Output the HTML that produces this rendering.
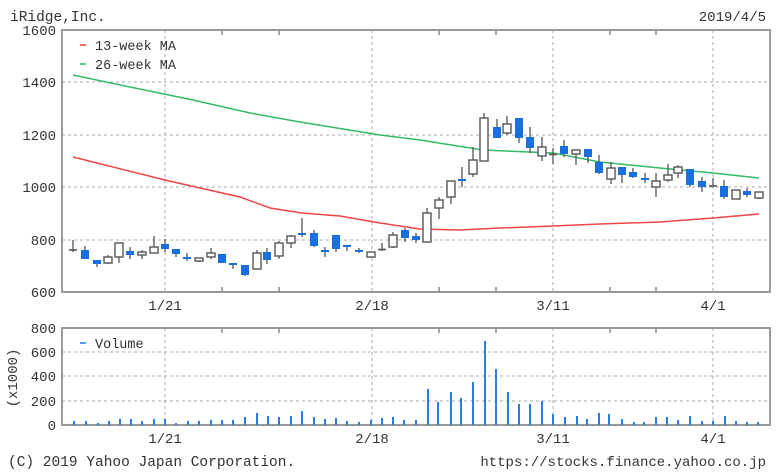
<!DOCTYPE html>
<html><head><meta charset="utf-8"><style>
html,body{margin:0;padding:0;background:#fff;}
svg{display:block;}
text{font-family:"Liberation Mono",monospace;fill:#333;}
</style></head><body>
<svg width="776" height="476" viewBox="0 0 776 476" xmlns="http://www.w3.org/2000/svg">
<text x="10" y="21" font-size="14.5">iRidge,Inc.</text>
<text x="766" y="21" font-size="14" text-anchor="end">2019/4/5</text>
<g stroke="#aaa" stroke-width="1" stroke-dasharray="3,3" fill="none">
<line x1="62" y1="82" x2="770" y2="82"/><line x1="62" y1="135" x2="770" y2="135"/><line x1="62" y1="187" x2="770" y2="187"/><line x1="62" y1="240" x2="770" y2="240"/>
<line x1="165" y1="30" x2="165" y2="292"/><line x1="372" y1="30" x2="372" y2="292"/><line x1="553" y1="30" x2="553" y2="292"/><line x1="713" y1="30" x2="713" y2="292"/>
<line x1="62" y1="352" x2="770" y2="352"/><line x1="62" y1="376" x2="770" y2="376"/><line x1="62" y1="401" x2="770" y2="401"/>
<line x1="165" y1="328" x2="165" y2="425"/><line x1="372" y1="328" x2="372" y2="425"/><line x1="553" y1="328" x2="553" y2="425"/><line x1="713" y1="328" x2="713" y2="425"/>
</g>
<g stroke="#888" stroke-width="1.5">
<line x1="222" y1="30" x2="222" y2="35"/><line x1="279" y1="30" x2="279" y2="35"/><line x1="439" y1="30" x2="439" y2="35"/><line x1="496" y1="30" x2="496" y2="35"/><line x1="610" y1="30" x2="610" y2="35"/><line x1="656" y1="30" x2="656" y2="35"/>
<line x1="222" y1="292" x2="222" y2="287"/><line x1="279" y1="292" x2="279" y2="287"/><line x1="439" y1="292" x2="439" y2="287"/><line x1="496" y1="292" x2="496" y2="287"/><line x1="610" y1="292" x2="610" y2="287"/><line x1="656" y1="292" x2="656" y2="287"/>
<line x1="222" y1="328" x2="222" y2="333"/><line x1="279" y1="328" x2="279" y2="333"/><line x1="439" y1="328" x2="439" y2="333"/><line x1="496" y1="328" x2="496" y2="333"/><line x1="610" y1="328" x2="610" y2="333"/><line x1="656" y1="328" x2="656" y2="333"/>
</g>
<rect x="62" y="30" width="708" height="262" fill="none" stroke="#999" stroke-width="2"/>
<rect x="62" y="328" width="708" height="97" fill="none" stroke="#999" stroke-width="2"/>
<g font-size="14" text-anchor="end">
<text x="56" y="35">1600</text><text x="56" y="87">1400</text><text x="56" y="140">1200</text><text x="56" y="192">1000</text><text x="56" y="245">800</text><text x="56" y="297">600</text>
<text x="56" y="333">800</text><text x="56" y="357">600</text><text x="56" y="381">400</text><text x="56" y="406">200</text><text x="56" y="430">0</text>
</g>
<g font-size="14" text-anchor="middle">
<text x="165" y="310">1/21</text><text x="372" y="310">2/18</text><text x="553" y="310">3/11</text><text x="713" y="310">4/1</text>
<text x="165" y="443">1/21</text><text x="372" y="443">2/18</text><text x="553" y="443">3/11</text><text x="713" y="443">4/1</text>
</g>
<text transform="translate(17,378) rotate(-90)" font-size="14" text-anchor="middle">(x1000)</text>
<text x="8" y="466" font-size="14.5">(C) 2019 Yahoo Japan Corporation.</text>
<text x="766" y="466" font-size="14" text-anchor="end">https://stocks.finance.yahoo.co.jp</text>
<line x1="80" y1="45" x2="86" y2="45" stroke="#e33" stroke-width="1.5"/>
<text x="95" y="50" font-size="13.5">13-week MA</text>
<line x1="80" y1="64" x2="86" y2="64" stroke="#3b5" stroke-width="1.5"/>
<text x="95" y="69" font-size="13.5">26-week MA</text>
<line x1="80" y1="343" x2="86" y2="343" stroke="#2277ee" stroke-width="1.5"/>
<text x="95" y="348" font-size="13.5">Volume</text>
<polyline fill="none" stroke="#ee4444" stroke-width="1.5" points="73,157 165,180 200,188 240,197 270,208 302,213 340,216 380,223 420,229 460,230 500,228 553,226 600,224 660,222 713,218 759,214"/>
<polyline fill="none" stroke="#33bb66" stroke-width="1.5" points="73,75 130,87 193,100 250,113 300,122 380,135 420,140 483,150 553,153 600,162 660,168 713,173 759,178"/>
<g stroke="#555" stroke-width="1.3">
<line x1="73" y1="240" x2="73" y2="252"/><line x1="85" y1="246" x2="85" y2="259"/><line x1="97" y1="260" x2="97" y2="267"/><line x1="108" y1="255" x2="108" y2="264"/><line x1="119" y1="243" x2="119" y2="263"/><line x1="130" y1="247" x2="130" y2="259"/><line x1="142" y1="250" x2="142" y2="259"/><line x1="154" y1="236" x2="154" y2="253"/><line x1="165" y1="239" x2="165" y2="252"/><line x1="176" y1="249" x2="176" y2="257"/><line x1="187" y1="253" x2="187" y2="261"/><line x1="199" y1="258" x2="199" y2="262"/><line x1="211" y1="248" x2="211" y2="259"/><line x1="222" y1="254" x2="222" y2="263"/><line x1="233" y1="263" x2="233" y2="269"/><line x1="245" y1="265" x2="245" y2="276"/><line x1="257" y1="250" x2="257" y2="269"/><line x1="267" y1="248" x2="267" y2="264"/><line x1="279" y1="241" x2="279" y2="259"/><line x1="291" y1="235" x2="291" y2="248"/><line x1="302" y1="218" x2="302" y2="237"/><line x1="314" y1="230" x2="314" y2="247"/><line x1="325" y1="247" x2="325" y2="257"/><line x1="336" y1="235" x2="336" y2="252"/><line x1="347" y1="245" x2="347" y2="251"/><line x1="359" y1="248" x2="359" y2="253"/><line x1="371" y1="252" x2="371" y2="258"/><line x1="382" y1="243" x2="382" y2="251"/><line x1="393" y1="232" x2="393" y2="248"/><line x1="405" y1="228" x2="405" y2="242"/><line x1="416" y1="233" x2="416" y2="243"/><line x1="427" y1="208" x2="427" y2="242"/><line x1="439" y1="197" x2="439" y2="219"/><line x1="451" y1="181" x2="451" y2="204"/><line x1="462" y1="167" x2="462" y2="187"/><line x1="473" y1="147" x2="473" y2="177"/><line x1="484" y1="113" x2="484" y2="161"/><line x1="497" y1="119" x2="497" y2="138"/><line x1="507" y1="116" x2="507" y2="135"/><line x1="519" y1="118" x2="519" y2="143"/><line x1="530" y1="127" x2="530" y2="153"/><line x1="542" y1="137" x2="542" y2="161"/><line x1="553" y1="148" x2="553" y2="164"/><line x1="564" y1="140" x2="564" y2="157"/><line x1="576" y1="150" x2="576" y2="165"/><line x1="588" y1="149" x2="588" y2="163"/><line x1="599" y1="155" x2="599" y2="174"/><line x1="611" y1="162" x2="611" y2="184"/><line x1="622" y1="167" x2="622" y2="183"/><line x1="633" y1="168" x2="633" y2="178"/><line x1="645" y1="173" x2="645" y2="183"/><line x1="656" y1="173" x2="656" y2="197"/><line x1="668" y1="164" x2="668" y2="182"/><line x1="678" y1="165" x2="678" y2="178"/><line x1="690" y1="169" x2="690" y2="187"/><line x1="702" y1="177" x2="702" y2="192"/><line x1="713" y1="178" x2="713" y2="187"/><line x1="724" y1="180" x2="724" y2="199"/><line x1="736" y1="190" x2="736" y2="199"/><line x1="747" y1="188" x2="747" y2="197"/><line x1="759" y1="192" x2="759" y2="199"/>
</g>
<g fill="#1a6fe0">
<rect x="81" y="250" width="8" height="9"/><rect x="93" y="260" width="8" height="4"/><rect x="126" y="251" width="8" height="4"/><rect x="161" y="244" width="8" height="5"/><rect x="172" y="249" width="8" height="5"/><rect x="183" y="257" width="8" height="2"/><rect x="218" y="254" width="8" height="9"/><rect x="229" y="263" width="8" height="2"/><rect x="241" y="265" width="8" height="10"/><rect x="263" y="252" width="8" height="8"/><rect x="298" y="233" width="8" height="2"/><rect x="310" y="233" width="8" height="13"/><rect x="321" y="250" width="8" height="2"/><rect x="332" y="235" width="8" height="14"/><rect x="343" y="245" width="8" height="2"/><rect x="355" y="250" width="8" height="2"/><rect x="401" y="230" width="8" height="8"/><rect x="412" y="236" width="8" height="4"/><rect x="458" y="179" width="8" height="2"/><rect x="493" y="127" width="8" height="11"/><rect x="515" y="118" width="8" height="20"/><rect x="526" y="137" width="8" height="11"/><rect x="560" y="146" width="8" height="8"/><rect x="584" y="149" width="8" height="8"/><rect x="595" y="162" width="8" height="11"/><rect x="618" y="167" width="8" height="8"/><rect x="629" y="172" width="8" height="5"/><rect x="641" y="178" width="8" height="2"/><rect x="686" y="169" width="8" height="16"/><rect x="698" y="181" width="8" height="6"/><rect x="720" y="186" width="8" height="11"/><rect x="743" y="191" width="8" height="4"/>
</g>
<g fill="#fff" stroke="#555" stroke-width="1.4">
<rect x="104" y="257" width="8" height="6"/><rect x="115" y="243" width="8" height="14"/><rect x="138" y="252" width="8" height="3"/><rect x="150" y="247" width="8" height="6"/><rect x="195" y="258" width="8" height="3"/><rect x="207" y="253" width="8" height="4"/><rect x="253" y="253" width="8" height="16"/><rect x="275" y="243" width="8" height="13"/><rect x="287" y="236" width="8" height="7"/><rect x="367" y="252" width="8" height="5"/><rect x="389" y="235" width="8" height="12"/><rect x="423" y="213" width="8" height="29"/><rect x="435" y="200" width="8" height="8"/><rect x="447" y="181" width="8" height="16"/><rect x="469" y="160" width="8" height="14"/><rect x="480" y="118" width="8" height="43"/><rect x="503" y="124" width="8" height="9"/><rect x="538" y="147" width="8" height="9"/><rect x="572" y="150" width="8" height="4"/><rect x="607" y="168" width="8" height="11"/><rect x="652" y="181" width="8" height="6"/><rect x="664" y="175" width="8" height="5"/><rect x="674" y="167" width="8" height="6"/><rect x="732" y="190" width="8" height="9"/><rect x="755" y="192" width="8" height="6"/>
</g>
<g stroke="#555" stroke-width="1.6">
<line x1="69" y1="250" x2="77" y2="250"/><line x1="378" y1="249.5" x2="386" y2="249.5"/><line x1="549" y1="154.5" x2="557" y2="154.5"/><line x1="709" y1="186" x2="717" y2="186"/>
</g>
<g stroke="#2a7de8" stroke-width="2">
<line x1="74" y1="425" x2="74" y2="421"/><line x1="86" y1="425" x2="86" y2="421"/><line x1="98" y1="425" x2="98" y2="423"/><line x1="109" y1="425" x2="109" y2="421"/><line x1="120" y1="425" x2="120" y2="419"/><line x1="131" y1="425" x2="131" y2="419"/><line x1="142" y1="425" x2="142" y2="421"/><line x1="154" y1="425" x2="154" y2="419"/><line x1="165" y1="425" x2="165" y2="419"/><line x1="176" y1="425" x2="176" y2="423"/><line x1="188" y1="425" x2="188" y2="421"/><line x1="199" y1="425" x2="199" y2="421"/><line x1="211" y1="425" x2="211" y2="420"/><line x1="222" y1="425" x2="222" y2="420"/><line x1="233" y1="425" x2="233" y2="420"/><line x1="245" y1="425" x2="245" y2="417"/><line x1="257" y1="425" x2="257" y2="413"/><line x1="268" y1="425" x2="268" y2="416"/><line x1="279" y1="425" x2="279" y2="417"/><line x1="291" y1="425" x2="291" y2="416"/><line x1="302" y1="425" x2="302" y2="411"/><line x1="314" y1="425" x2="314" y2="417"/><line x1="325" y1="425" x2="325" y2="419"/><line x1="336" y1="425" x2="336" y2="418"/><line x1="347" y1="425" x2="347" y2="421"/><line x1="359" y1="425" x2="359" y2="422"/><line x1="371" y1="425" x2="371" y2="420"/><line x1="382" y1="425" x2="382" y2="418"/><line x1="393" y1="425" x2="393" y2="417"/><line x1="404" y1="425" x2="404" y2="420"/><line x1="416" y1="425" x2="416" y2="420"/><line x1="428" y1="425" x2="428" y2="389"/><line x1="438" y1="425" x2="438" y2="402"/><line x1="451" y1="425" x2="451" y2="392"/><line x1="461" y1="425" x2="461" y2="398"/><line x1="473" y1="425" x2="473" y2="382"/><line x1="485" y1="425" x2="485" y2="341"/><line x1="496" y1="425" x2="496" y2="369"/><line x1="508" y1="425" x2="508" y2="392"/><line x1="519" y1="425" x2="519" y2="404"/><line x1="530" y1="425" x2="530" y2="404"/><line x1="542" y1="425" x2="542" y2="401"/><line x1="553" y1="425" x2="553" y2="414"/><line x1="565" y1="425" x2="565" y2="417"/><line x1="577" y1="425" x2="577" y2="416"/><line x1="587" y1="425" x2="587" y2="419"/><line x1="599" y1="425" x2="599" y2="413"/><line x1="609" y1="425" x2="609" y2="414"/><line x1="622" y1="425" x2="622" y2="419"/><line x1="634" y1="425" x2="634" y2="422"/><line x1="644" y1="425" x2="644" y2="422"/><line x1="656" y1="425" x2="656" y2="417"/><line x1="667" y1="425" x2="667" y2="417"/><line x1="678" y1="425" x2="678" y2="420"/><line x1="690" y1="425" x2="690" y2="416"/><line x1="702" y1="425" x2="702" y2="421"/><line x1="713" y1="425" x2="713" y2="421"/><line x1="725" y1="425" x2="725" y2="416"/><line x1="736" y1="425" x2="736" y2="421"/><line x1="747" y1="425" x2="747" y2="422"/><line x1="758" y1="425" x2="758" y2="422"/>
</g>
</svg>
</body></html>
